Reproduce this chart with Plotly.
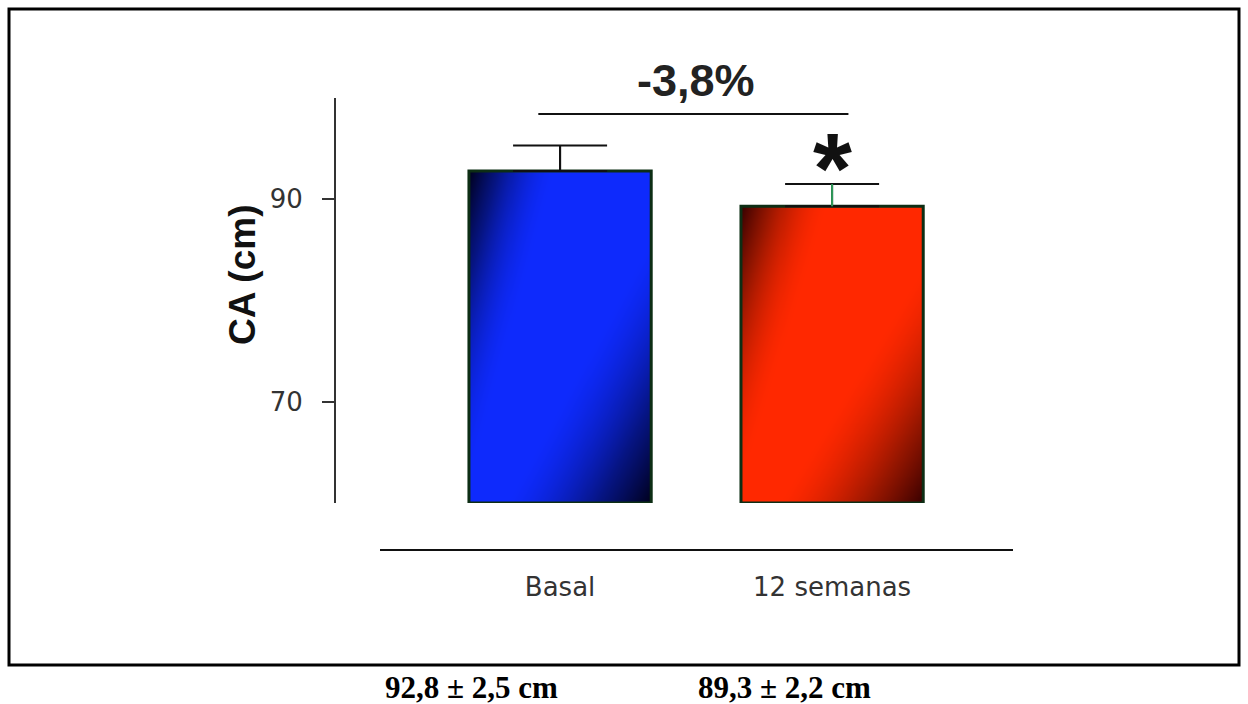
import numpy as np
import plotly.graph_objects as go

# Waist circumference (CA) before and after 12 weeks
categories = ["Basal", "12 semanas"]
means = [92.8, 89.3]
sds = [2.5, 2.2]
y_ticks = [70, 90]
y_range = [60, 100]

W, H = 1248, 704
bar_width = 0.67
x_pos = list(range(len(categories)))

bright = ["rgb(14,42,252)", "rgb(255,40,0)"]
mid = ["rgb(6,20,130)", "rgb(150,22,0)"]
dark = ["rgb(0,0,28)", "rgb(55,0,0)"]
stem_colors = ["#111111", "#2e9a5a"]


def px_x(p):
    return p / W


def px_y(p):
    return 1 - p / H


fig = go.Figure()

# shaded fills for each bar: soft darkening towards top-left and bottom-right corners
nx, ny = 60, 110
for i, m in enumerate(means):
    xe = np.linspace(i - bar_width / 2, i + bar_width / 2, nx + 1)
    ye = np.linspace(y_range[0], m, ny + 1)
    u = (np.arange(nx) + 0.5) / nx
    v = 1 - (np.arange(ny) + 0.5) / ny  # 0 at top, 1 at bottom
    U, V = np.meshgrid(u, v)
    d1 = np.clip(1 - (2 * U + V) / 0.95, 0, 1) ** 1.7
    d2 = np.clip(((U + V) / 2 - 0.6) / 0.4, 0, 1) ** 1.5
    shade = np.maximum(d1, d2)
    fig.add_trace(go.Heatmap(
        x=xe, y=ye, z=shade, zmin=0, zmax=1, zsmooth="best",
        colorscale=[[0, bright[i]], [0.5, mid[i]], [1, dark[i]]],
        showscale=False, hoverinfo="skip",
    ))

# bar outlines with upward error bars
for i, (m, s) in enumerate(zip(means, sds)):
    fig.add_trace(go.Bar(
        x=[x_pos[i]], y=[m - y_range[0]], base=y_range[0], width=bar_width,
        marker=dict(color="rgba(0,0,0,0)", line=dict(color="#0d2e14", width=3)),
        error_y=dict(type="data", symmetric=False, array=[s], arrayminus=[0],
                     color="#111111", thickness=2, width=47),
        showlegend=False, hoverinfo="skip",
    ))
    # coloured stem over the black one
    fig.add_trace(go.Scatter(
        x=[x_pos[i]], y=[m], mode="markers", marker=dict(size=1, opacity=0),
        error_y=dict(type="data", symmetric=False, array=[s], arrayminus=[0],
                     color=stem_colors[i], thickness=2, width=0),
        showlegend=False, hoverinfo="skip",
    ))

x_dom = [px_x(380), px_x(1013)]
y_dom = [px_y(503), px_y(98)]
fig.update_layout(
    width=W, height=H, margin=dict(l=0, r=0, t=0, b=0),
    paper_bgcolor="white", plot_bgcolor="white", showlegend=False,
    xaxis=dict(domain=x_dom, range=[-0.662, 1.665], anchor="free",
               position=px_y(550), showline=True, linecolor="#111111", linewidth=2,
               tickvals=x_pos, ticktext=categories, ticks="", showgrid=False,
               zeroline=False, ticklabelstandoff=14,
               tickfont=dict(family="DejaVu Sans", size=26, color="#333333")),
    yaxis=dict(domain=y_dom, range=y_range, anchor="free", position=px_x(335),
               showline=True, linecolor="#333333", linewidth=2,
               tickvals=y_ticks, ticks="outside", ticklen=12, tickwidth=2,
               tickcolor="#333333", showgrid=False, zeroline=False,
               ticklabelstandoff=14,
               tickfont=dict(family="DejaVu Sans", size=26, color="#333333")),
)

# y axis title
fig.add_annotation(text="<b>CA (cm)</b>", textangle=-90, xref="paper", yref="paper",
                   x=px_x(242), y=px_y(275), xanchor="center", yanchor="middle",
                   showarrow=False,
                   font=dict(family="Liberation Sans", size=37, color="#111111"))

# percentage change bracket
change = (means[1] - means[0]) / means[0] * 100
change_txt = f"{change:.1f}%".replace(".", ",")
fig.add_shape(type="line", xref="x", yref="paper", x0=x_pos[0] - 0.08, x1=x_pos[1] + 0.06,
              y0=px_y(114), y1=px_y(114), line=dict(color="#111111", width=2))
fig.add_annotation(text=f"<b>{change_txt}</b>", xref="x", yref="paper",
                   x=(x_pos[0] + x_pos[1]) / 2, y=px_y(80),
                   xanchor="center", yanchor="middle", showarrow=False,
                   font=dict(family="Liberation Sans", size=45, color="#222222"))
fig.add_annotation(text="<b>*</b>", xref="x", yref="paper", x=x_pos[1], y=px_y(168),
                   xanchor="center", yanchor="middle", showarrow=False,
                   font=dict(family="Liberation Sans", size=100, color="#111111"))

# frame
fig.add_shape(type="rect", xref="paper", yref="paper",
              x0=px_x(9), x1=px_x(1239), y0=px_y(665), y1=px_y(9),
              line=dict(color="black", width=3))

# mean ± sd summaries under the frame
for cx, m, s in zip([471, 784], means, sds):
    label = f"{m:.1f} ± {s:.1f} cm".replace(".", ",")
    fig.add_annotation(text=f"<b>{label}</b>", xref="paper", yref="paper",
                       x=px_x(cx), y=px_y(687), xanchor="center", yanchor="middle",
                       showarrow=False,
                       font=dict(family="Liberation Serif", size=31, color="black"))

fig.write_html("out.html")
